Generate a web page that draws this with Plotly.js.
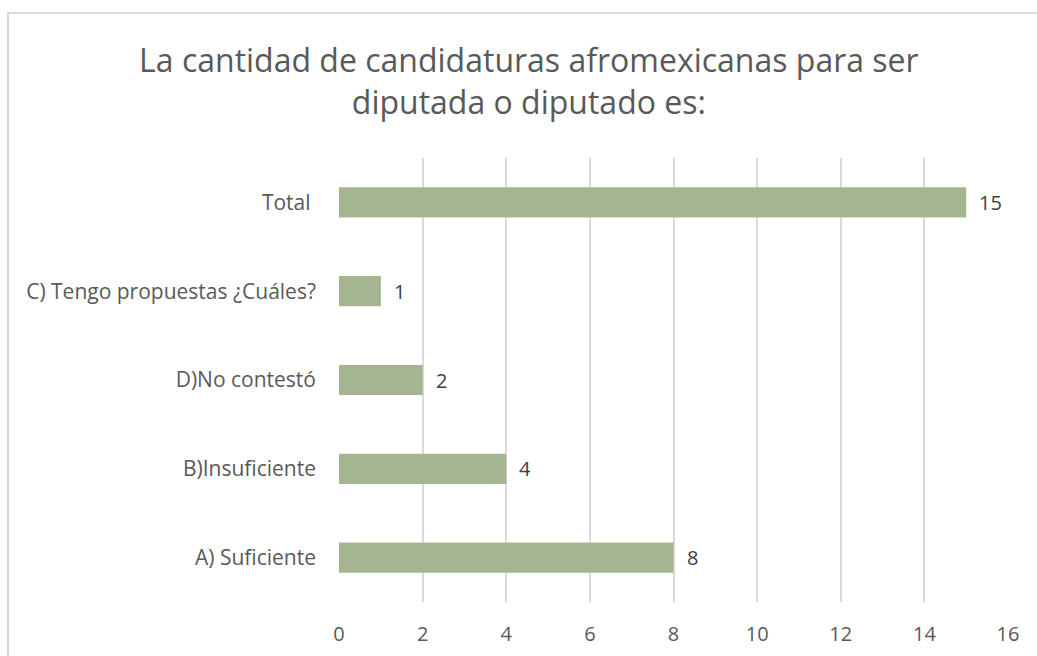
<!DOCTYPE html>
<html><head><meta charset="utf-8">
<script src="https://cdn.plot.ly/plotly-3.0.1.min.js"></script>
<style>html,body{margin:0;padding:0;background:#fff;overflow:hidden;}#frame{position:absolute;left:7px;top:12px;width:1060px;height:680px;border:2px solid #d9d9d9;box-sizing:border-box;}#chart{position:absolute;left:0;top:0;width:1037px;height:656px;}</style>
</head><body>
<div id="frame"></div>
<div id="chart"></div>
<script>
const categories = ["A) Suficiente", "B)Insuficiente", "D)No contestó", "C) Tengo propuestas ¿Cuáles?", "Total "];
const values = [8, 4, 2, 1, 15];
const xTicks = [0, 2, 4, 6, 8, 10, 12, 14, 16];
const titleText = "La cantidad de candidaturas afromexicanas para ser<br>diputada o diputado es:";

const fontFam = "Open Sans, Noto Sans, sans-serif";
const annots = values.map((v, i) => ({
  x: v, y: categories[i], xref: "x", yref: "y", text: String(v),
  showarrow: false, xanchor: "left", yanchor: "middle", xshift: 11,
  font: {family: fontFam, size: 20, color: "#404040"}
}));
Plotly.newPlot("chart", [{
  type: "bar", orientation: "h",
  y: categories, x: values,
  width: 0.34,
  marker: {color: "#a5b592"},
  hoverinfo: "none"
}], {
  width: 1037, height: 656,
  paper_bgcolor: "rgba(0,0,0,0)", plot_bgcolor: "rgba(0,0,0,0)",
  margin: {l: 339, r: 29, t: 158, b: 54},
  title: {text: titleText, x: 0.51, xanchor: "center", y: 0.8895, yanchor: "top",
    font: {family: fontFam, size: 32, color: "#595959"}},
  xaxis: {range: [0, 16], tickvals: xTicks, ticktext: xTicks.map(String),
    showgrid: true, gridcolor: "#d9d9d9", gridwidth: 2, zeroline: false,
    showline: false, ticks: "", ticklen: 0, fixedrange: true, ticklabelstandoff: 18,
    tickfont: {family: fontFam, size: 20, color: "#595959"}},
  yaxis: {type: "category", categoryorder: "array", categoryarray: categories,
    showgrid: false, zeroline: false, showline: false, ticks: "", ticklabelstandoff: 22,
    tickfont: {family: fontFam, size: 21, color: "#595959"}},
  annotations: annots,
  showlegend: false
}, {displayModeBar: false, staticPlot: true});
</script>
</body></html>
